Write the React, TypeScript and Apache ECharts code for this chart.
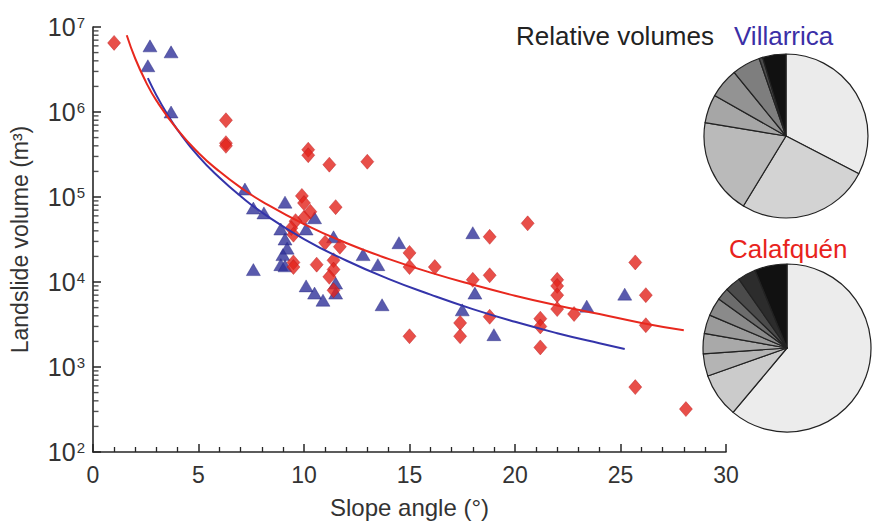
import React, { useEffect, useRef } from "react";
import * as echarts from "echarts";

// Calafquén (red diamonds): slope angle (°) and landslide volume (m³)
const calafquenAngle = [1.0, 6.3, 6.3, 6.3, 10.2, 10.2, 11.2, 13.0, 9.9, 10.0, 11.5, 10.3, 10.0, 9.6, 9.4, 9.5, 11.0, 11.7, 11.4, 9.5, 9.5, 10.6, 11.4, 11.2, 11.4, 15.0, 15.0, 16.2, 17.4, 17.4, 20.6, 18.8, 18.0, 18.8, 22.0, 22.0, 22.0, 22.0, 22.8, 26.2, 25.7, 18.8, 21.2, 21.2, 21.2, 26.2, 25.7, 28.1, 15.0];
const calafquenVolume = [6.5e6, 8.0e5, 4.3e5, 4.0e5, 3.6e5, 3.1e5, 2.4e5, 2.6e5, 1.03e5, 8.5e4, 7.6e4, 6.7e4, 5.7e4, 5.2e4, 4.3e4, 3.6e4, 2.9e4, 2.6e4, 1.8e4, 1.7e4, 1.5e4, 1.6e4, 1.4e4, 1.15e4, 8.0e3, 2.2e4, 1.5e4, 1.5e4, 3.3e3, 2.3e3, 4.9e4, 3.4e4, 1.06e4, 1.2e4, 1.06e4, 9.0e3, 7.0e3, 4.8e3, 4.2e3, 7.0e3, 1.7e4, 3.9e3, 3.7e3, 3.0e3, 1.7e3, 3.1e3, 580, 320, 2.3e3];

// Villarrica (blue triangles)
const villarricaAngle = [2.7, 3.7, 2.6, 3.7, 7.2, 9.1, 7.6, 8.1, 10.5, 8.9, 10.1, 9.1, 9.2, 9.0, 11.4, 12.8, 13.5, 14.5, 8.9, 9.1, 7.6, 10.1, 10.5, 10.9, 11.5, 11.5, 13.7, 17.5, 18.0, 18.1, 19.0, 23.4, 25.2];
const villarricaVolume = [6.0e6, 5.1e6, 3.5e6, 1.0e6, 1.24e5, 8.7e4, 7.4e4, 6.5e4, 5.7e4, 4.2e4, 4.2e4, 3.2e4, 2.5e4, 2.1e4, 3.4e4, 2.1e4, 1.6e4, 2.9e4, 1.6e4, 1.55e4, 1.4e4, 9.0e3, 7.4e3, 6.1e3, 9.7e3, 7.4e3, 5.4e3, 4.7e3, 3.8e4, 7.4e3, 2.4e3, 5.2e3, 7.2e3];

// Fitted trend curves
const calafquenFitAngle = [1.6, 2, 2.5, 3, 4, 5, 6, 7, 8, 10, 12, 14, 16, 18, 20, 22, 24, 26, 28];
const calafquenFitVolume = [8.0e6, 4.26e6, 2.28e6, 1.37e6, 6.2e5, 3.3e5, 1.99e5, 1.29e5, 8.9e4, 4.8e4, 2.88e4, 1.87e4, 1.29e4, 9.3e3, 6.9e3, 5.3e3, 4.2e3, 3.3e3, 2.7e3];
const villarricaFitAngle = [2.6, 3, 3.5, 4, 5, 6, 7, 8, 10, 12, 14, 16, 18, 20, 22, 24, 25.2];
const villarricaFitVolume = [2.5e6, 1.58e6, 9.6e5, 6.2e5, 3.0e5, 1.68e5, 1.02e5, 6.6e4, 3.2e4, 1.79e4, 1.09e4, 7.1e3, 4.8e3, 3.4e3, 2.5e3, 1.9e3, 1.63e3];

// Relative volumes (%), clockwise from 12 o'clock
const villarricaShares = [32.6, 26.1, 18.9, 5.6, 5.9, 5.6, 0.7, 4.6];
const villarricaShades = ["#ebebeb", "#d3d3d3", "#bababa", "#a6a6a6", "#939393", "#7e7e7e", "#4a4a4a", "#111111"];
const calafquenShares = [61.1, 8.5, 4.3, 3.9, 3.6, 3.5, 2.4, 3.0, 3.5, 6.2];
const calafquenShades = ["#ececec", "#cbcbcb", "#b4b4b4", "#a9a9a9", "#9b9b9b", "#8a8a8a", "#6c6c6c", "#4b4b4b", "#2c2c2c", "#111111"];

const yMajorExponents = [2, 3, 4, 5, 6, 7];
const yMinorMultipliers = [2, 3, 4, 5, 6, 7, 8, 9];
const xTickLabels = [0, 5, 10, 15, 20, 25, 30];

const FONT = "Liberation Sans, Arial, sans-serif";
const INK = "#262626";

export default function App() {
  const ref = useRef<HTMLDivElement>(null);
  useEffect(() => {
    if (!ref.current) return;
    const chart = echarts.init(ref.current, null, { renderer: "svg" });

    const minorLogTicks: number[][] = [];
    for (let i = 0; i < yMajorExponents.length - 1; i++) {
      for (const m of yMinorMultipliers) minorLogTicks.push([0, m * Math.pow(10, yMajorExponents[i])]);
    }

    const pair = (xs: number[], ys: number[]) => xs.map((x, i) => [x, ys[i]]);

    const option: any = {
      animation: false,
      backgroundColor: "#ffffff",
      grid: { left: 91, right: 146, top: 27, bottom: 73 },
      xAxis: {
        type: "value",
        min: 0,
        max: 30,
        interval: 5,
        name: "Slope angle (°)",
        nameLocation: "middle",
        nameGap: 43,
        nameTextStyle: { fontSize: 24, color: "#333", fontFamily: FONT },
        axisLine: { onZero: false, lineStyle: { color: INK, width: 1.6 } },
        axisTick: { inside: true, length: 8, lineStyle: { color: INK, width: 1.5 } },
        minorTick: { show: true, splitNumber: 5, length: 5, lineStyle: { color: INK, width: 1.3 } },
        axisLabel: {
          fontSize: 23,
          color: "#333",
          fontFamily: FONT,
          margin: 11,
          formatter: (v: number) => (xTickLabels.includes(v) ? String(v) : ""),
        },
        splitLine: { show: false },
        minorSplitLine: { show: false },
      },
      yAxis: {
        type: "log",
        logBase: 10,
        min: 100,
        max: 1e7,
        splitNumber: 5,
        name: "Landslide volume (m³)",
        nameLocation: "middle",
        nameGap: 62,
        nameTextStyle: { fontSize: 23, color: "#333", fontFamily: FONT },
        axisLine: { lineStyle: { color: INK, width: 1.6 } },
        axisTick: { inside: true, length: 8, lineStyle: { color: INK, width: 1.5 } },
        axisLabel: {
          color: "#333",
          margin: 8,
          formatter: (v: number) => "10{s|" + Math.round(Math.log10(v)) + "}",
          rich: {
            s: { fontSize: 15, color: "#333", fontFamily: FONT, verticalAlign: "top", lineHeight: 14, padding: [0, 0, 12, 1] },
          },
          fontSize: 25,
          fontFamily: FONT,
        },
        splitLine: { show: false },
      },
      graphic: [
        { type: "text", left: 516, top: 23, style: { text: "Relative volumes", fontSize: 26, fill: "#222", fontFamily: FONT } },
        { type: "text", left: 734, top: 23, style: { text: "Villarrica", fontSize: 26, fill: "#3b2fa6", fontFamily: FONT } },
        { type: "text", left: 729, top: 236, style: { text: "Calafquén", fontSize: 26, fill: "#e8231c", fontFamily: FONT } },
      ],
      series: [
        {
          type: "scatter",
          silent: true,
          clip: false,
          symbol: "rect",
          symbolSize: [5, 1.4],
          symbolOffset: [3, 0],
          data: minorLogTicks,
          itemStyle: { color: INK },
          z: 1,
        },
        {
          name: "Villarrica",
          type: "scatter",
          symbol: "triangle",
          symbolSize: [14, 12],
          data: pair(villarricaAngle, villarricaVolume),
          itemStyle: { color: "#2f3199", borderColor: "#262680", borderWidth: 0.5 },
          z: 3,
        },
        {
          name: "Calafquén",
          type: "scatter",
          symbol: "diamond",
          symbolSize: [13, 15],
          data: pair(calafquenAngle, calafquenVolume),
          itemStyle: { color: "#e2231b", borderColor: "#b4141a", borderWidth: 0.5 },
          z: 4,
        },
        {
          type: "line",
          data: pair(villarricaFitAngle, villarricaFitVolume),
          smooth: true,
          showSymbol: false,
          lineStyle: { color: "#3434aa", width: 2 },
          z: 5,
        },
        {
          type: "line",
          data: pair(calafquenFitAngle, calafquenFitVolume),
          smooth: true,
          showSymbol: false,
          lineStyle: { color: "#e8281e", width: 2 },
          z: 5,
        },
        {
          type: "pie",
          center: [786, 136],
          radius: 82,
          startAngle: 90,
          clockwise: true,
          label: { show: false },
          labelLine: { show: false },
          silent: true,
          itemStyle: { borderColor: "#222", borderWidth: 1.2 },
          data: villarricaShares.map((v, i) => ({ value: v, itemStyle: { color: villarricaShades[i] } })),
        },
        {
          type: "pie",
          center: [787, 348],
          radius: 84,
          startAngle: 90,
          clockwise: true,
          label: { show: false },
          labelLine: { show: false },
          silent: true,
          itemStyle: { borderColor: "#222", borderWidth: 1.2 },
          data: calafquenShares.map((v, i) => ({ value: v, itemStyle: { color: calafquenShades[i] } })),
        },
      ],
    };
    chart.setOption(option);
    return () => chart.dispose();
  }, []);
  return <div ref={ref} style={{ position: "fixed", left: 0, top: 0, width: 872, height: 525 }} />;
}
